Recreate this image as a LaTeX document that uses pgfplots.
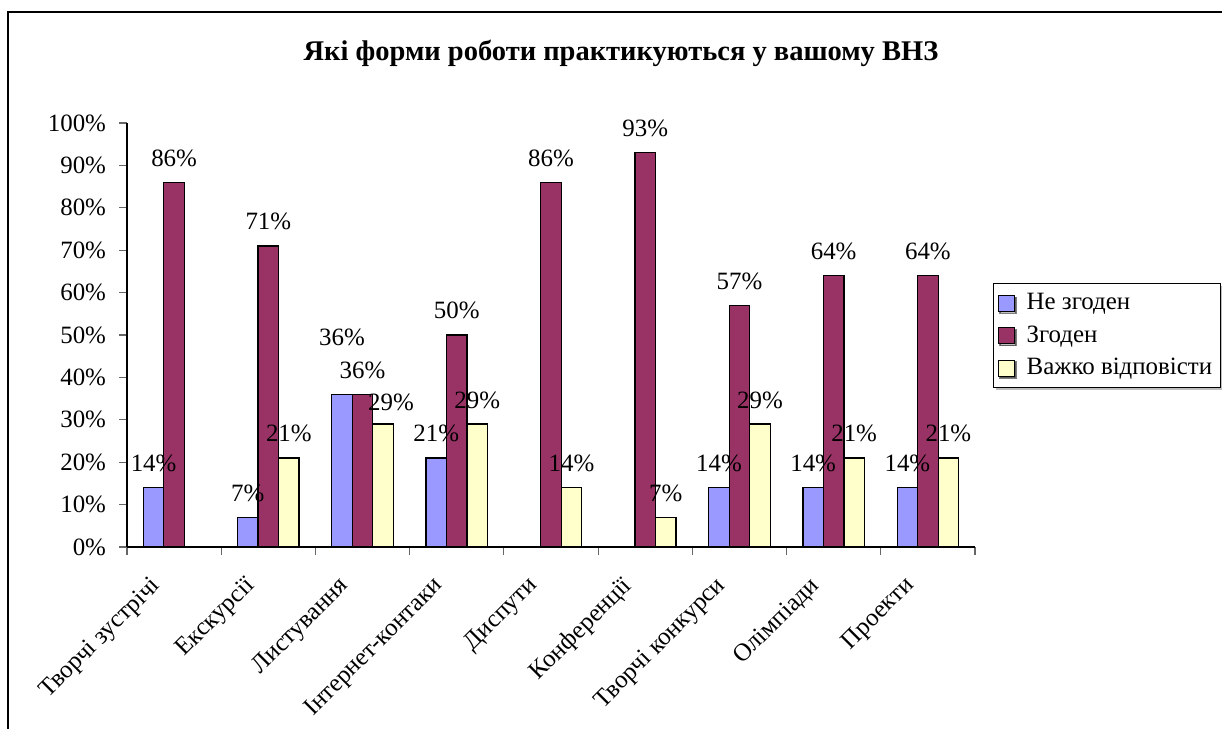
\documentclass[border=0pt]{standalone}
\usepackage{fontspec}
\setmainfont{Liberation Serif}
\usepackage{pgfplots}
\usepackage{pgfplotstable}
\pgfplotsset{compat=1.18}
\usetikzlibrary{shadows}

\definecolor{nezg}{HTML}{9999FF}
\definecolor{zgod}{HTML}{993366}
\definecolor{vazh}{HTML}{FFFFCC}

% x = category index, dx/dy = label offsets in bp
\pgfplotstableread{
x y dx dy
0 14 0 8
1 7 0 8
2 36 0 24.5
3 21 0 8
6 14 0 8
7 14 0 8
8 14 0 8
}\nezgoden
\pgfplotstableread{
x y dx dy
0 86 0 8
1 71 0 8
2 36 0 8
3 50 0 8
4 86 0 8
5 93 0 8
6 57 0 8
7 64 0 8
8 64 0 8
}\zgoden
\pgfplotstableread{
x y dx dy
1 21 0 8
2 29 4 7
3 29 0 8
4 14 0 8
5 7 0 8
6 29 0 8
7 21 0 8
8 21 0 8
}\vazhko

\newcommand\lbl{\fontsize{12.5}{15}\selectfont}

\pgfplotsset{
  barlabels/.style={draw=none, mark=none, forget plot,
    nodes near coords={\pgfmathprintnumber{\pgfplotspointmeta}\%},
    visualization depends on={\thisrow{dx}\as\dx},
    visualization depends on={\thisrow{dy}\as\dy},
    every node near coord/.append style={font=\lbl, anchor=base, inner sep=0pt,
      xshift={(\dx+#1)*1bp}, yshift={\dy*1bp}}},
}

\begin{document}
\begin{tikzpicture}
\path[use as bounding box] (0,0) rectangle (611bp,364.5bp);
\draw[line width=1bp] (4bp,0) -- (4bp,358.6bp) -- (620bp,358.6bp);
\node[anchor=base, font=\fontsize{14.3}{17}\selectfont\bfseries] at (310.5bp,334bp)
  {Які форми роботи практикуються у вашому ВНЗ};
\begin{axis}[
  at={(63.5bp,91bp)}, anchor=south west,
  scale only axis, width=424bp, height=212bp,
  xmin=-0.5, xmax=8.5, ymin=0, ymax=100,
  axis lines*=left, axis line style={-, black, line width=0.6bp},
  ytick={0,10,...,100},
  yticklabel={\pgfmathprintnumber{\tick}\%},
  xtick={-0.5,0.5,...,8.5},
  x tick label as interval,
  xticklabels={Творчі зустрічі, Екскурсії, Листування, Інтернет-контаки, Диспути,
    Конференції, Творчі конкурси, Олімпіади, Проекти},
  tick align=outside, major tick length=4bp,
  tick style={black!60, line width=0.6bp},
  tick label style={font=\lbl},
  y tick label style={xshift=-3bp},
  x tick label style={xshift=-12.5bp, yshift=-5bp, rotate=45, anchor=north east},
  /pgf/number format/assume math mode=true,
  legend style={at={(1.0212,0.6226)}, anchor=north west, font=\lbl,
    draw=black, line width=0.6bp, drop shadow={shadow xshift=1bp, shadow yshift=-1bp, fill=black!50},
    inner xsep=2bp, inner ysep=3bp, row sep=2.5bp},
  legend cell align=left,
  legend image code/.code={\draw[#1, line width=0.5bp] (2bp,-4bp) rectangle (10bp,4bp);
    \path (14bp,0bp);},
]
\addplot[ybar, bar width=10.25bp, bar shift=-10.25bp, fill=nezg, draw=black, line width=0.6bp]
  table[x=x, y=y]{\nezgoden};
\addlegendentry{Не згоден}
\addplot[ybar, bar width=10.25bp, bar shift=0bp, fill=zgod, draw=black, line width=0.6bp]
  table[x=x, y=y]{\zgoden};
\addlegendentry{Згоден}
\addplot[ybar, bar width=10.25bp, bar shift=10.25bp, fill=vazh, draw=black, line width=0.6bp]
  table[x=x, y=y]{\vazhko};
\addlegendentry{Важко відповісти\hspace{6bp}}

\addplot[barlabels=-10.25] table[x=x, y=y]{\nezgoden};
\addplot[barlabels=0] table[x=x, y=y]{\zgoden};
\addplot[barlabels=10.25] table[x=x, y=y]{\vazhko};
\end{axis}
\end{tikzpicture}
\end{document}
